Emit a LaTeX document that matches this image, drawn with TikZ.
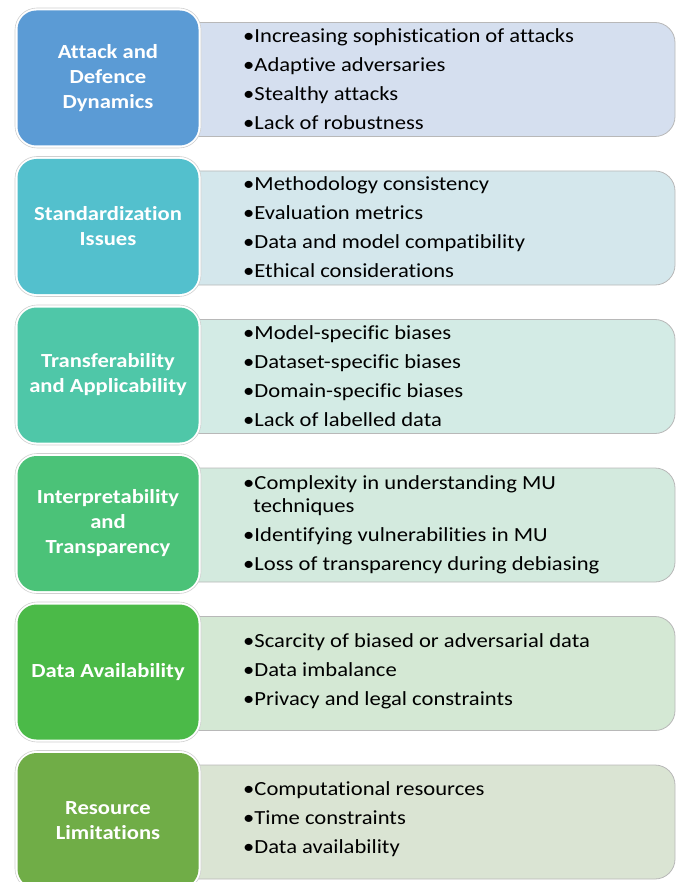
\documentclass[tikz,border=0pt]{standalone}
\usepackage{fontspec}
\setmainfont{Carlito}[FakeStretch=1.13, Ligatures=NoCommon]
\definecolor{Lone}{HTML}{5B9BD5}\definecolor{Rone}{HTML}{D5DFEF}
\definecolor{Ltwo}{HTML}{53C0CD}\definecolor{Rtwo}{HTML}{D4E7EC}
\definecolor{Lthree}{HTML}{4FC7A8}\definecolor{Rthree}{HTML}{D3EBE5}
\definecolor{Lfour}{HTML}{4BC278}\definecolor{Rfour}{HTML}{D3EADE}
\definecolor{Lfive}{HTML}{4BBA48}\definecolor{Rfive}{HTML}{D4E8D4}
\definecolor{Lsix}{HTML}{70AD47}\definecolor{Rsix}{HTML}{DAE4D3}
\definecolor{rimgray}{HTML}{D0D0D0}
\definecolor{edgegray}{HTML}{B8B8B8}
\begin{document}
\begin{tikzpicture}[x=1pt,y=-1pt]
\useasboundingbox (0,0) rectangle (676,882);
\tikzset{
  rbox/.style={draw=edgegray, line width=0.8pt, rounded corners=20pt},
  lring/.style={fill=white, draw=rimgray, line width=0.6pt, rounded corners=22pt},
  lbox/.style={draw=none, rounded corners=19pt, minimum width=181pt, minimum height=135pt,
    text=white, font=\bfseries\fontsize{20}{25}\selectfont, align=center, inner sep=0pt},
  items/.style={anchor=west, align=left, font=\fontsize{20}{23}\selectfont, inner sep=0pt},
}
\newcommand{\rowbg}[3]{%
  \draw[rbox, fill=#2] (150,#1+14.5) rectangle (675,#1+128.5);
  \draw[lring] (15,#1) rectangle (201,#1+140);
}
% Row 1
\rowbg{8}{Rone}{Lone}
\node[lbox, fill=Lone] (l1) at (108,78) {Attack and\\Defence\\Dynamics};
\node[items] (t1) at (243,79) {•Increasing sophistication of attacks\\[6pt]•Adaptive adversaries\\[6pt]•Stealthy attacks\\[6pt]•Lack of robustness};
% Row 2
\rowbg{156.5}{Rtwo}{Ltwo}
\node[lbox, fill=Ltwo] (l2) at (108,226.5) {Standardization\\Issues};
\node[items] (t2) at (243,227.5) {•Methodology consistency\\[6pt]•Evaluation metrics\\[6pt]•Data and model compatibility\\[6pt]•Ethical considerations};
% Row 3
\rowbg{305}{Rthree}{Lthree}
\node[lbox, fill=Lthree] (l3) at (108,375) {Transferability\\and Applicability};
\node[items] (t3) at (243,376) {•Model-specific biases\\[6pt]•Dataset-specific biases\\[6pt]•Domain-specific biases\\[6pt]•Lack of labelled data};
% Row 4
\rowbg{453.5}{Rfour}{Lfour}
\node[lbox, fill=Lfour] (l4) at (108,523.5) {Interpretability\\and\\Transparency};
\node[items] (t4) at (243,524.5) {•Complexity in understanding MU\\\hphantom{•}\hspace{-1pt}techniques\\[6pt]•Identifying vulnerabilities in MU\\[6pt]•Loss of transparency during debiasing};
% Row 5
\rowbg{602}{Rfive}{Lfive}
\node[lbox, fill=Lfive] (l5) at (108,672) {Data Availability};
\node[items] (t5) at (243,671) {•Scarcity of biased or adversarial data\\[6pt]•Data imbalance\\[6pt]•Privacy and legal constraints};
% Row 6
\rowbg{750.5}{Rsix}{Lsix}
\node[lbox, fill=Lsix] (l6) at (108,820.5) {Resource\\Limitations};
\node[items] (t6) at (243,819) {•Computational resources\\[6pt]•Time constraints\\[6pt]•Data availability};
\end{tikzpicture}
\end{document}
